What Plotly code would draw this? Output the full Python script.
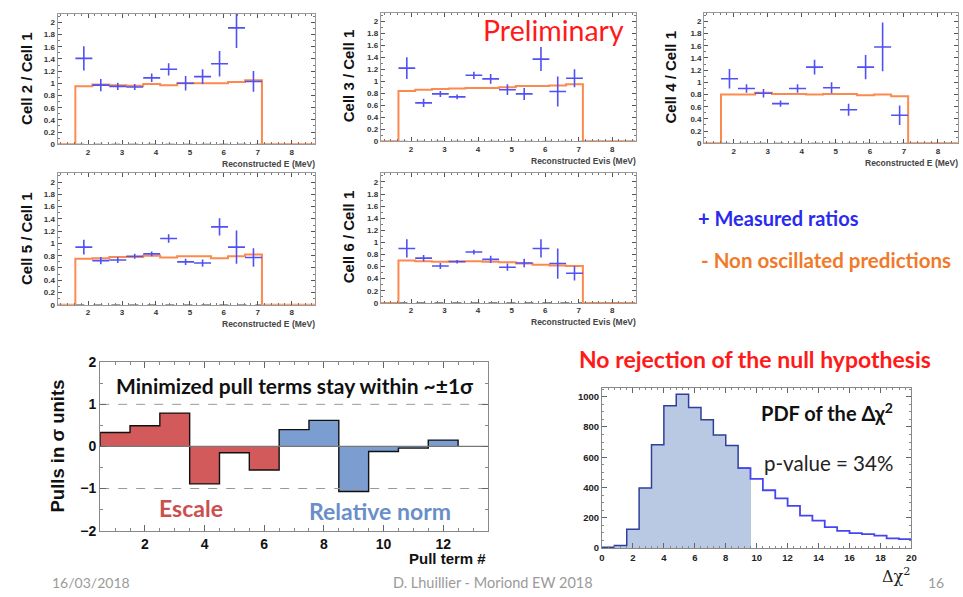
import plotly.graph_objects as go

W, H = 963, 597

# ---------------- data ----------------
energy = [1.875, 2.375, 2.875, 3.375, 3.875, 4.375, 4.875, 5.375, 5.875, 6.375, 6.875]
e_half = 0.25

cell2_ratio = [1.41, 0.97, 0.95, 0.94, 1.09, 1.23, 1.00, 1.11, 1.32, 1.91, 1.03]
cell2_err = [0.20, 0.10, 0.06, 0.05, 0.07, 0.10, 0.12, 0.12, 0.21, 0.33, 0.17]
cell2_pred = [0.95, 0.98, 0.97, 0.96, 0.99, 0.97, 1.00, 1.00, 1.00, 1.02, 1.05]

cell3_ratio = [1.22, 0.64, 0.79, 0.74, 1.10, 1.04, 0.86, 0.79, 1.37, 0.83, 1.05]
cell3_err = [0.18, 0.07, 0.05, 0.04, 0.06, 0.08, 0.09, 0.10, 0.20, 0.25, 0.15]
cell3_pred = [0.84, 0.86, 0.87, 0.88, 0.89, 0.89, 0.90, 0.92, 0.92, 0.93, 0.95]

cell4_ratio = [1.06, 0.90, 0.82, 0.65, 0.90, 1.25, 0.91, 0.55, 1.25, 1.58, 0.46]
cell4_err = [0.16, 0.07, 0.07, 0.05, 0.07, 0.12, 0.09, 0.10, 0.20, 0.40, 0.16]
cell4_pred = [0.80, 0.80, 0.83, 0.81, 0.81, 0.80, 0.81, 0.81, 0.79, 0.80, 0.77]

cell5_ratio = [0.94, 0.72, 0.73, 0.79, 0.83, 1.08, 0.70, 0.68, 1.27, 0.94, 0.77]
cell5_err = [0.12, 0.06, 0.05, 0.04, 0.04, 0.07, 0.05, 0.06, 0.14, 0.27, 0.15]
cell5_pred = [0.75, 0.76, 0.78, 0.78, 0.80, 0.77, 0.79, 0.79, 0.76, 0.79, 0.82]

cell6_ratio = [0.90, 0.74, 0.61, 0.68, 0.84, 0.72, 0.59, 0.66, 0.90, 0.65, 0.49]
cell6_err = [0.15, 0.05, 0.05, 0.03, 0.04, 0.06, 0.06, 0.07, 0.15, 0.25, 0.12]
cell6_pred = [0.70, 0.69, 0.68, 0.69, 0.69, 0.68, 0.67, 0.65, 0.63, 0.62, 0.61]

pull_terms = [1, 2, 3, 4, 5, 6, 7, 8, 9, 10, 11, 12]
pulls = [0.33, 0.49, 0.79, -0.89, -0.15, -0.56, 0.40, 0.62, -1.07, -0.12, -0.04, 0.15]
n_escale = 6

chi2_lo = 0.0
chi2_width = 0.8
chi2_counts = [5, 17, 125, 397, 682, 940, 1015, 929, 848, 747, 678, 528,
               457, 382, 328, 279, 215, 182, 139, 114, 99, 92, 82, 64, 60]
chi2_obs = 9.6

y_ticks_cell = [0, 0.2, 0.4, 0.6, 0.8, 1, 1.2, 1.4, 1.6, 1.8, 2]
y_ticklabels_cell = ["0", "0.2", "0.4", "0.6", "0.8", "1", "1.2", "1.4", "1.6", "1.8", "2"]

# ---------------- helpers ----------------
def px(x):
    return x / W

def py(y):
    return 1 - y / H

BLUE = "rgb(80,80,245)"
ORANGE = "rgb(252,138,78)"
ROOTFONT = "Liberation Sans"
SLIDEFONT = "Lato"

fig = go.Figure()
layout = dict(width=W, height=H, margin=dict(l=0, r=0, t=0, b=0),
              paper_bgcolor="white", plot_bgcolor="white", showlegend=False)
annotations = []

cells = [
    ("Cell 2 / Cell 1", "Reconstructed E (MeV)", cell2_ratio, cell2_err, cell2_pred,
     (55, 315, 6, 140), [1.1, 8.7], 23),
    ("Cell 3 / Cell 1", "Reconstructed Evis (MeV)", cell3_ratio, cell3_err, cell3_pred,
     (381, 638, 5, 137), [1.1, 8.7], 348),
    ("Cell 4 / Cell 1", "Reconstructed E (MeV)", cell4_ratio, cell4_err, cell4_pred,
     (707, 963, 5, 139), [1.13, 8.59], 673),
    ("Cell 5 / Cell 1", "Reconstructed E (MeV)", cell5_ratio, cell5_err, cell5_pred,
     (55, 315, 170, 305), [1.1, 8.7], 23),
    ("Cell 6 / Cell 1", "Reconstructed Evis (MeV)", cell6_ratio, cell6_err, cell6_pred,
     (381, 638, 170, 303), [1.1, 8.7], 348),
]

edges = [c - e_half for c in energy] + [energy[-1] + e_half]

for i, (ytitle, xtitle, ratio, err, pred, box, xr, ytx) in enumerate(cells):
    n = i + 1
    xa = "x" if n == 1 else f"x{n}"
    ya = "y" if n == 1 else f"y{n}"
    l, r, t, b = box
    yr = [0, 2.14]
    fig.add_trace(go.Scatter(x=[edges[0], edges[-1]], y=[0, 0], mode="lines",
                             line=dict(color="#444", width=1, dash="dash"),
                             xaxis=xa, yaxis=ya, hoverinfo="skip"))
    hx = [xr[0]] + edges + [xr[1]]
    hy = [0] + pred + [0, 0]
    fig.add_trace(go.Scatter(x=hx, y=hy, mode="lines", line_shape="hv",
                             line=dict(color=ORANGE, width=2), xaxis=xa, yaxis=ya))
    fig.add_trace(go.Scatter(x=energy, y=ratio, mode="markers",
                             marker=dict(size=1, color=BLUE),
                             error_x=dict(type="data", array=[e_half] * len(energy),
                                          color=BLUE, width=0, thickness=1.6),
                             error_y=dict(type="data", array=err, color=BLUE,
                                          width=0, thickness=1.6),
                             xaxis=xa, yaxis=ya, cliponaxis=True))
    axcommon = dict(showline=True, linecolor="#999", linewidth=1, mirror="ticks",
                    ticks="inside", ticklen=4, tickcolor="#555", showgrid=False,
                    zeroline=False,
                    tickfont=dict(family=ROOTFONT, size=8, color="#333", weight="bold"))
    layout["xaxis" if n == 1 else f"xaxis{n}"] = dict(
        domain=[px(l), px(r)], range=xr, anchor=ya, tickvals=[2, 3, 4, 5, 6, 7, 8],
        minor=dict(ticks="inside", ticklen=2, dtick=0.2, tickcolor="#777"), **axcommon)
    layout["yaxis" if n == 1 else f"yaxis{n}"] = dict(
        domain=[py(b), py(t)], range=yr, anchor=xa, tickvals=y_ticks_cell,
        ticktext=y_ticklabels_cell,
        minor=dict(ticks="inside", ticklen=2, dtick=0.1, tickcolor="#777"), **axcommon)
    annotations.append(dict(x=px(ytx), y=py((t + b) / 2 - 1), xref="paper", yref="paper",
                            text=ytitle, textangle=-90, showarrow=False,
                            font=dict(family=ROOTFONT, size=15, color="#111", weight="bold"),
                            xanchor="center", yanchor="middle"))
    annotations.append(dict(x=px(r + 2), y=py(b + 20), xref="paper", yref="paper",
                            text=xtitle, showarrow=False,
                            font=dict(family=ROOTFONT, size=8.5, color="#444", weight="bold"),
                            xanchor="right", yanchor="middle"))

# ---------------- pull plot ----------------
pl, pr, pt, pb = 98, 489, 364, 537
bar_colors = ["#d25a5a" if k < n_escale else "#7b9dd0" for k in range(len(pulls))]
fig.add_trace(go.Bar(x=pull_terms, y=pulls, width=1.0,
                     marker=dict(color=bar_colors, line=dict(width=0)),
                     xaxis="x6", yaxis="y6"))
p_edges = [p - 0.5 for p in pull_terms] + [pull_terms[-1] + 0.5]
fig.add_trace(go.Scatter(x=[p_edges[0]] + p_edges, y=[0] + pulls + [0],
                         mode="lines", line_shape="hv", line=dict(color="#111", width=1.4),
                         xaxis="x6", yaxis="y6"))
for yv in (1, -1):
    fig.add_trace(go.Scatter(x=[0.5, 13.5], y=[yv, yv], mode="lines",
                             line=dict(color="#999", width=1, dash="dash"),
                             xaxis="x6", yaxis="y6"))
fig.add_trace(go.Scatter(x=[0.5, 13.5], y=[0, 0], mode="lines",
                         line=dict(color="#777", width=1.2), xaxis="x6", yaxis="y6"))
pax = dict(showline=True, linecolor="#888", linewidth=1.2, mirror="ticks", ticks="inside",
           ticklen=6, tickcolor="#666", showgrid=False, zeroline=False,
           tickfont=dict(family=ROOTFONT, size=14, color="#111", weight="bold"))
layout["xaxis6"] = dict(domain=[px(pl), px(pr)], range=[0.5, 13.5], anchor="y6",
                        tickvals=[2, 4, 6, 8, 10, 12],
                        minor=dict(ticks="inside", ticklen=3, dtick=0.5, tickcolor="#888"), **pax)
layout["yaxis6"] = dict(domain=[py(pb), py(pt)], range=[-2, 2], anchor="x6",
                        tickvals=[-2, -1, 0, 1, 2],
                        ticktext=["\u22122", "\u22121", "0", "1", "2"],
                        minor=dict(ticks="inside", ticklen=3, dtick=0.5, tickcolor="#888"), **pax)
layout["bargap"] = 0

annotations += [
    dict(x=px(294), y=py(388), text="Minimized pull terms stay within ~\u00b11\u03c3",
         font=dict(family=SLIDEFONT, size=21, color="#111", weight="bold")),
    dict(x=px(190), y=py(514), text="Escale",
         font=dict(family=SLIDEFONT, size=23, color="#cc4f4f", weight="bold")),
    dict(x=px(380), y=py(517), text="Relative norm",
         font=dict(family=SLIDEFONT, size=23, color="#6a8fc8", weight="bold")),
    dict(x=px(55), y=py(450), text="Pulls in \u03c3 units", textangle=-90,
         font=dict(family=ROOTFONT, size=18.5, color="#111", weight="bold")),
    dict(x=px(489), y=py(566), text="Pull term #", xanchor="right",
         font=dict(family=ROOTFONT, size=15, color="#111", weight="bold")),
]

# ---------------- chi2 plot ----------------
cl, cr, ct, cb = 604, 916, 390, 555
c_edges = [chi2_lo + k * chi2_width for k in range(len(chi2_counts) + 1)]
c_centers = [chi2_lo + (k + 0.5) * chi2_width for k in range(len(chi2_counts))]
n_shaded = sum(1 for c in c_centers if c < chi2_obs)
fig.add_trace(go.Bar(x=c_centers[:n_shaded], y=chi2_counts[:n_shaded], width=chi2_width,
                     marker=dict(color="#b9c9e3", line=dict(width=0)), xaxis="x7", yaxis="y7"))
fig.add_trace(go.Scatter(x=c_edges[:n_shaded + 1],
                         y=chi2_counts[:n_shaded] + [chi2_counts[n_shaded - 1]],
                         mode="lines", line_shape="hv", line=dict(color="#2f3f9a", width=1.5),
                         xaxis="x7", yaxis="y7"))
fig.add_trace(go.Scatter(x=c_edges[n_shaded - 1:],
                         y=chi2_counts[n_shaded - 1:] + [chi2_counts[-1]],
                         mode="lines", line_shape="hv", line=dict(color="#4646f0", width=1.8),
                         xaxis="x7", yaxis="y7"))
cax = dict(showline=True, linecolor="#888", linewidth=1, mirror="ticks", ticks="inside",
           ticklen=5, tickcolor="#666", showgrid=False, zeroline=False,
           tickfont=dict(family=ROOTFONT, size=9.5, color="#222", weight="bold"))
layout["xaxis7"] = dict(domain=[px(cl), px(cr)], range=[0, 20], anchor="y7", dtick=2,
                        minor=dict(ticks="inside", ticklen=2, dtick=0.4, tickcolor="#888"), **cax)
layout["yaxis7"] = dict(domain=[py(cb), py(ct)], range=[0, 1060], anchor="x7", dtick=200,
                        minor=dict(ticks="inside", ticklen=2, dtick=50, tickcolor="#888"), **cax)

annotations += [
    dict(x=px(758), y=py(361), text="No rejection of the null hypothesis",
         font=dict(family=SLIDEFONT, size=23, color="#ff1a1a", weight="bold")),
    dict(x=px(831), y=py(415), text="PDF of the \u0394\u03c7<sup>2</sup>",
         font=dict(family=SLIDEFONT, size=20, color="#111", weight="bold")),
    dict(x=px(832), y=py(468), text="p-value = 34%",
         font=dict(family=SLIDEFONT, size=20.5, color="#222")),
    dict(x=px(900), y=py(583), text="\u0394\u03c7<sup>2</sup>",
         font=dict(family="DejaVu Serif", size=16, color="#222")),
]

# ---------------- slide texts ----------------
annotations += [
    dict(x=px(555), y=py(23), text="Preliminary",
         font=dict(family=SLIDEFONT, size=28.5, color="#ff1a1a")),
    dict(x=px(699), y=py(216), text="+ Measured ratios", xanchor="left",
         font=dict(family=SLIDEFONT, size=20, color="#2a2af0", weight="bold")),
    dict(x=px(702), y=py(259), text="- Non oscillated predictions", xanchor="left",
         font=dict(family=SLIDEFONT, size=20.5, color="#f07a2a", weight="bold")),
    dict(x=px(47), y=py(590), text="16/03/2018", xanchor="left",
         font=dict(family=SLIDEFONT, size=14, color="#9a9a9a")),
    dict(x=px(494), y=py(590), text="D. Lhuillier - Moriond EW 2018",
         font=dict(family=SLIDEFONT, size=14.5, color="#9a9a9a")),
    dict(x=px(941), y=py(590), text="16",
         font=dict(family=SLIDEFONT, size=14, color="#9a9a9a")),
]

for a in annotations:
    a.setdefault("xref", "paper")
    a.setdefault("yref", "paper")
    a.setdefault("showarrow", False)
    a.setdefault("xanchor", "center")
    a.setdefault("yanchor", "middle")

layout["annotations"] = annotations
fig.update_layout(**layout)
fig.write_html("out.html")
